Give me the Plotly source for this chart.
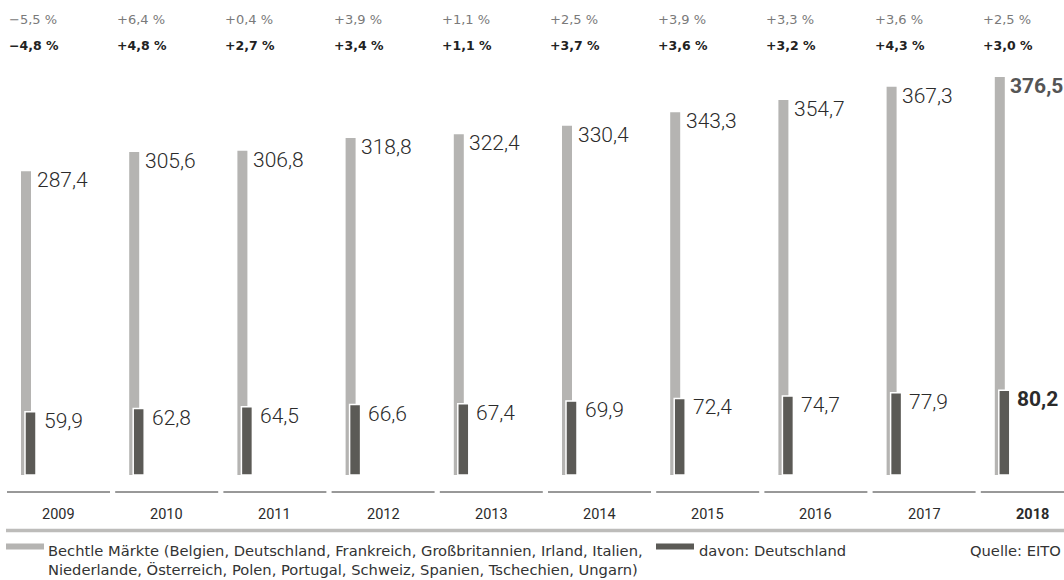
import plotly.graph_objects as go

# Data
years = ["2009", "2010", "2011", "2012", "2013", "2014", "2015", "2016", "2017", "2018"]
markets_total = [287.4, 305.6, 306.8, 318.8, 322.4, 330.4, 343.3, 354.7, 367.3, 376.5]
germany = [59.9, 62.8, 64.5, 66.6, 67.4, 69.9, 72.4, 74.7, 77.9, 80.2]
growth_total = ["−5,5 %", "+6,4 %", "+0,4 %", "+3,9 %", "+1,1 %", "+2,5 %", "+3,9 %", "+3,3 %", "+3,6 %", "+2,5 %"]
growth_germany = ["−4,8 %", "+4,8 %", "+2,7 %", "+3,4 %", "+1,1 %", "+3,7 %", "+3,6 %", "+3,2 %", "+4,3 %", "+3,0 %"]

W, H = 1064, 580
STEP = 108.2          # pixels per category
X0 = 58.5             # pixel centre of first category
BASE = 475.0          # pixel row of value 0
K = 1.057             # pixels per unit

LIGHT = "#b5b4b2"
DARK = "#5b5a56"
FONT = "Roboto"
WIDE = "DejaVu Sans"

idx = list(range(len(years)))


def px_x(p):
    return p / STEP


def paper_y(p):
    return 1 - p / H


def de(v):
    return f"{v:.1f}".replace(".", ",")


fig = go.Figure()
fig.add_trace(go.Bar(
    x=idx, y=markets_total, width=px_x(10), offset=px_x(-37.5),
    marker=dict(color=LIGHT, line=dict(width=0)), hoverinfo="skip",
))
fig.add_trace(go.Bar(
    x=idx, y=germany, width=px_x(11), offset=px_x(-33.5),
    marker=dict(color=DARK, line=dict(color="white", width=1.5)), hoverinfo="skip",
))

annotations = []
shapes = []
last = len(years) - 1
for i in idx:
    bold = i == last
    # value labels beside the bar tops
    annotations.append(dict(
        x=i, y=markets_total[i], xref="x", yref="y", xanchor="left", yanchor="top",
        xshift=-24, yshift=5, showarrow=False,
        text=f"<b>{de(markets_total[i])}</b>" if bold else de(markets_total[i]),
        font=dict(family=FONT, size=21, color="#555" if bold else "#2b2b2b",
                  weight=700 if bold else 300),
    ))
    annotations.append(dict(
        x=i, y=germany[i], xref="x", yref="y", xanchor="left", yanchor="top",
        xshift=-17, yshift=5, showarrow=False,
        text=f"<b>{de(germany[i])}</b>" if bold else de(germany[i]),
        font=dict(family=FONT, size=21, color="#2b2b2b", weight=700 if bold else 300),
    ))
    # growth rates on top
    annotations.append(dict(
        x=i, y=paper_y(19.5), xref="x", yref="paper", xanchor="left", yanchor="middle",
        xshift=-51.5, showarrow=False, text=growth_total[i],
        font=dict(family=WIDE, size=13, color="#7a7a7a"),
    ))
    annotations.append(dict(
        x=i, y=paper_y(45.5), xref="x", yref="paper", xanchor="left", yanchor="middle",
        xshift=-51.5, showarrow=False, text=f"<b>{growth_germany[i]}</b>",
        font=dict(family=WIDE, size=12.5, color="#222"),
    ))
    # year labels
    annotations.append(dict(
        x=i, y=paper_y(514), xref="x", yref="paper", xanchor="center", yanchor="middle",
        showarrow=False, text=f"<b>{years[i]}</b>" if bold else years[i],
        font=dict(family=FONT, size=14.5, color="#2b2b2b"),
    ))
    # short baseline segment under each year
    shapes.append(dict(
        type="line", xref="x", yref="paper",
        x0=i - px_x(51.5), x1=i + px_x(51.5), y0=paper_y(492), y1=paper_y(492),
        line=dict(color="#333", width=1),
    ))

# thick grey rule
shapes.append(dict(
    type="line", xref="paper", yref="paper", x0=6 / W, x1=1, y0=paper_y(530.5), y1=paper_y(530.5),
    line=dict(color="#bdbcba", width=3.5),
))

# legend swatches
shapes.append(dict(type="rect", xref="paper", yref="paper", x0=6 / W, x1=44 / W,
                   y0=paper_y(549.5), y1=paper_y(543.5), fillcolor=LIGHT, line=dict(width=0)))
shapes.append(dict(type="rect", xref="paper", yref="paper", x0=656 / W, x1=694 / W,
                   y0=paper_y(549.5), y1=paper_y(543.5), fillcolor=DARK, line=dict(width=0)))

legend_font = dict(family=WIDE, size=14.7, color="#333")
annotations.append(dict(
    x=46 / W, y=paper_y(540), xref="paper", yref="paper", xanchor="left", yanchor="top",
    align="left", showarrow=False, font=legend_font,
    text="Bechtle Märkte (Belgien, Deutschland, Frankreich, Großbritannien, Irland, Italien,"
         "<br>Niederlande, Österreich, Polen, Portugal, Schweiz, Spanien, Tschechien, Ungarn)",
))
annotations.append(dict(
    x=697 / W, y=paper_y(540), xref="paper", yref="paper", xanchor="left", yanchor="top",
    showarrow=False, font=legend_font, text="davon: Deutschland",
))
annotations.append(dict(
    x=1063 / W, y=paper_y(540), xref="paper", yref="paper", xanchor="right", yanchor="top",
    showarrow=False, font=legend_font, text="Quelle: EITO",
))

fig.update_layout(
    width=W, height=H,
    margin=dict(l=0, r=0, t=0, b=0),
    paper_bgcolor="white", plot_bgcolor="white",
    barmode="overlay", showlegend=False,
    xaxis=dict(range=[-X0 / STEP, (W - X0) / STEP], visible=False, fixedrange=True),
    yaxis=dict(range=[-(H - BASE) / K, BASE / K], visible=False, fixedrange=True),
    annotations=annotations, shapes=shapes,
)

fig.write_html("out.html", config={"displayModeBar": False})
